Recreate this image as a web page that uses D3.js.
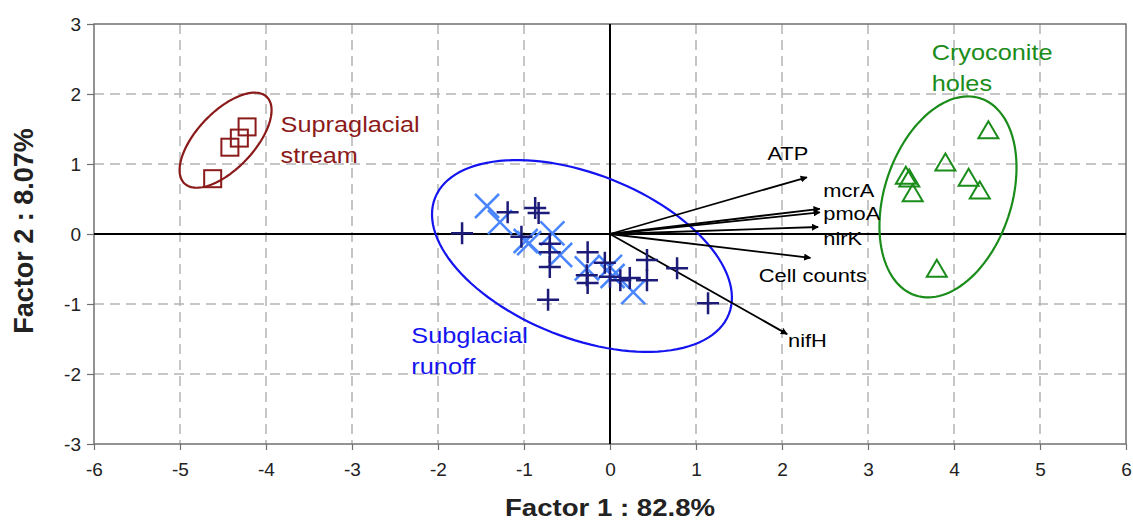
<!DOCTYPE html>
<html>
<head>
<meta charset="utf-8">
<script src="https://cdn.jsdelivr.net/npm/d3@7"></script>
<style>
body { margin: 0; background: #fff; }
text { font-family: "Liberation Sans", Arial, sans-serif; }
</style>
</head>
<body>
<svg id="chart"></svg>
<script>
// tick values
var xTicks = [-6, -5, -4, -3, -2, -1, 0, 1, 2, 3, 4, 5, 6];
var yTicks = [-3, -2, -1, 0, 1, 2, 3];

// Supraglacial stream (squares)
var supraX = [-4.62, -4.42, -4.31, -4.22];
var supraY = [0.79, 1.24, 1.37, 1.53];

// Cryoconite holes (triangles)
var cryoX = [4.40, 3.90, 3.44, 3.48, 3.52, 4.17, 4.30, 3.80];
var cryoY = [1.49, 1.03, 0.84, 0.80, 0.59, 0.81, 0.63, -0.49];

// Subglacial runoff, two kinds of samples (+ and x)
var subPlusX = [-1.72, -1.19, -0.87, -0.83, -1.03, -0.70, -0.70, -0.70, -0.72, -0.26,
                -0.27, -0.26, -0.06, 0.00, 0.12, 0.23, 0.43, 0.43, 0.78, 1.14];
var subPlusY = [0.01, 0.31, 0.37, 0.30, -0.04, -0.14, -0.26, -0.47, -0.94, -0.26,
                -0.59, -0.70, -0.41, -0.61, -0.66, -0.63, -0.37, -0.66, -0.49, -0.99];
var subCrossX = [-1.43, -1.28, -0.98, -0.94, -0.67, -0.58, -0.27, 0.00, 0.03, 0.27];
var subCrossY = [0.40, 0.17, -0.10, -0.13, 0.01, -0.30, -0.49, -0.47, -0.60, -0.83];

// loading vectors
var loadNames = ["ATP", "mcrA", "pmoA", "nirK", "Cell counts", "nifH"];
var loadX = [2.29, 2.44, 2.44, 2.42, 2.33, 2.06];
var loadY = [0.81, 0.36, 0.31, 0.10, -0.34, -1.43];

// group ellipses: centre and two half-axis vectors (data units)
var groupNames = ["Supraglacial stream", "Subglacial runoff", "Cryoconite holes"];
var ellCX = [-4.47, -0.326, 3.93];
var ellCY = [1.34, -0.314, 0.53];
var ellAX = [0.478, 1.708, 0.379];
var ellAY = [0.619, -0.831, 1.407];
var ellBX = [0.240, -0.351, 0.701];
var ellBY = [-0.280, -1.089, -0.285];

var W = 1133, H = 521;
var margin = {top: 24, right: 7, bottom: 77, left: 94};
var width = W - margin.left - margin.right;
var height = H - margin.top - margin.bottom;
var stretch = 1.15;

var groupColors = ["#8b1a1a", "#1414f0", "#1a8c1a"];
var plusColor = "#1c1c78", crossColor = "#4a86ff";

var svg = d3.select("#chart").attr("width", W).attr("height", H);

svg.append("defs").append("marker")
  .attr("id", "arrow")
  .attr("viewBox", "0 0 10 10")
  .attr("refX", 9).attr("refY", 5)
  .attr("markerWidth", 7).attr("markerHeight", 7)
  .attr("markerUnits", "userSpaceOnUse")
  .attr("orient", "auto")
  .append("path").attr("d", "M0,0 L10,5 L0,10 z").attr("fill", "#000");

var g = svg.append("g").attr("transform", "translate(" + margin.left + "," + margin.top + ")");

var x = d3.scaleLinear().domain([-6, 6]).range([0, width]);
var y = d3.scaleLinear().domain([-3, 3]).range([height, 0]);

// dashed grid
g.selectAll(".gx").data(xTicks.filter(d => d != 0 && Math.abs(d) < 6)).enter()
  .append("line")
  .attr("x1", d => x(d)).attr("x2", d => x(d))
  .attr("y1", 0).attr("y2", height)
  .attr("stroke", "#b4b4b4").attr("stroke-width", 1.5).attr("stroke-dasharray", "10,6");
g.selectAll(".gy").data(yTicks.filter(d => d != 0 && Math.abs(d) < 3)).enter()
  .append("line")
  .attr("y1", d => y(d)).attr("y2", d => y(d))
  .attr("x1", 0).attr("x2", width)
  .attr("stroke", "#b4b4b4").attr("stroke-width", 1.5).attr("stroke-dasharray", "10,6");

// frame
g.append("rect").attr("width", width).attr("height", height)
  .attr("fill", "none").attr("stroke", "#707070").attr("stroke-width", 1.5);

// axes with outward ticks, plain hyphen for negatives
var xAxis = g.append("g").attr("transform", "translate(0," + height + ")")
  .call(d3.axisBottom(x).tickValues(xTicks).tickSize(6).tickFormat(d => String(d)));
var yAxis = g.append("g")
  .call(d3.axisLeft(y).tickValues(yTicks).tickSize(7).tickFormat(d => String(d)));
[xAxis, yAxis].forEach(function(a) {
  a.select(".domain").remove();
  a.selectAll("line").attr("stroke", "#707070").attr("stroke-width", 1.2);
  a.selectAll("text").attr("font-size", 19).attr("fill", "#222")
    .style("font-family", "'Liberation Sans', Arial, sans-serif");
});
xAxis.selectAll("text").attr("dy", "1.2em");
yAxis.selectAll("text").attr("x", -13);

// zero lines
g.append("line").attr("x1", 0).attr("x2", width).attr("y1", y(0)).attr("y2", y(0))
  .attr("stroke", "#000").attr("stroke-width", 2);
g.append("line").attr("x1", x(0)).attr("x2", x(0)).attr("y1", 0).attr("y2", height)
  .attr("stroke", "#000").attr("stroke-width", 2);

// ellipses
var ellLine = d3.line();
groupNames.forEach(function(name, i) {
  var pts = d3.range(0, 361, 3).map(function(a) {
    var t = a * Math.PI / 180;
    return [x(ellCX[i] + Math.cos(t) * ellAX[i] + Math.sin(t) * ellBX[i]),
            y(ellCY[i] + Math.cos(t) * ellAY[i] + Math.sin(t) * ellBY[i])];
  });
  g.append("path").attr("d", ellLine(pts))
    .attr("fill", "none").attr("stroke", groupColors[i]).attr("stroke-width", 2.2);
});

// loading arrows
g.selectAll(".arrow").data(loadNames).enter().append("line")
  .attr("x1", x(0)).attr("y1", y(0))
  .attr("x2", (d, i) => x(loadX[i])).attr("y2", (d, i) => y(loadY[i]))
  .attr("stroke", "#000").attr("stroke-width", 1.8)
  .attr("marker-end", "url(#arrow)");

// markers
g.selectAll(".sq").data(supraX).enter().append("rect")
  .attr("x", (d, i) => x(d) - 8.5).attr("y", (d, i) => y(supraY[i]) - 8.5)
  .attr("width", 17).attr("height", 17)
  .attr("fill", "none").attr("stroke", groupColors[0]).attr("stroke-width", 2);

g.selectAll(".tri").data(cryoX).enter().append("path")
  .attr("transform", (d, i) => "translate(" + x(d) + "," + y(cryoY[i]) + ")")
  .attr("d", "M0,-8.5 L10,8.5 L-10,8.5 Z")
  .attr("fill", "none").attr("stroke", groupColors[2]).attr("stroke-width", 2);

g.selectAll(".cross").data(subCrossX).enter().append("path")
  .attr("transform", (d, i) => "translate(" + x(d) + "," + y(subCrossY[i]) + ")")
  .attr("d", "M-12,-12 L12,12 M-12,12 L12,-12")
  .attr("fill", "none").attr("stroke", crossColor).attr("stroke-width", 2.5);

g.selectAll(".plus").data(subPlusX).enter().append("path")
  .attr("transform", (d, i) => "translate(" + x(d) + "," + y(subPlusY[i]) + ")")
  .attr("d", "M-11,0 L11,0 M0,-11 L0,11")
  .attr("fill", "none").attr("stroke", plusColor).attr("stroke-width", 2.5);

// text helper, glyphs slightly wider than tall like the original
function label(parent, px, py, txt, size, color, weight) {
  return parent.append("text")
    .attr("transform", "translate(" + px + "," + py + ") scale(" + stretch + ",1)")
    .attr("font-size", size).attr("fill", color)
    .attr("font-weight", weight || "normal")
    .text(txt);
}

// loading labels
var loadLabelPos = [[1.83, 1.06], [2.48, 0.53], [2.48, 0.20], [2.48, -0.16], [1.73, -0.69], [2.07, -1.62]];
loadNames.forEach(function(n, i) {
  label(g, x(loadLabelPos[i][0]), y(loadLabelPos[i][1]), n, 19, "#000");
});

// group labels (two lines each)
var groupLabelPos = [[-3.83, 1.46], [-2.31, -1.56], [3.74, 2.49]];
var groupLines = [["Supraglacial", "stream"], ["Subglacial", "runoff"], ["Cryoconite", "holes"]];
groupLines.forEach(function(lines, i) {
  lines.forEach(function(t, k) {
    label(g, x(groupLabelPos[i][0]), y(groupLabelPos[i][1]) + k * 31, t, 22, groupColors[i]);
  });
});

// axis titles
svg.append("text")
  .attr("transform", "translate(" + (margin.left + x(0)) + "," + (H - 5) + ") scale(" + stretch + ",1)")
  .attr("text-anchor", "middle").attr("font-size", 24).attr("font-weight", "bold").attr("fill", "#222")
  .text("Factor 1 : 82.8%");
svg.append("text")
  .attr("transform", "translate(33," + (margin.top + y(0) - 3) + ") rotate(-90)")
  .attr("text-anchor", "middle").attr("font-size", 27).attr("font-weight", "bold").attr("fill", "#222")
  .text("Factor 2 : 8.07%");
</script>
</body>
</html>
